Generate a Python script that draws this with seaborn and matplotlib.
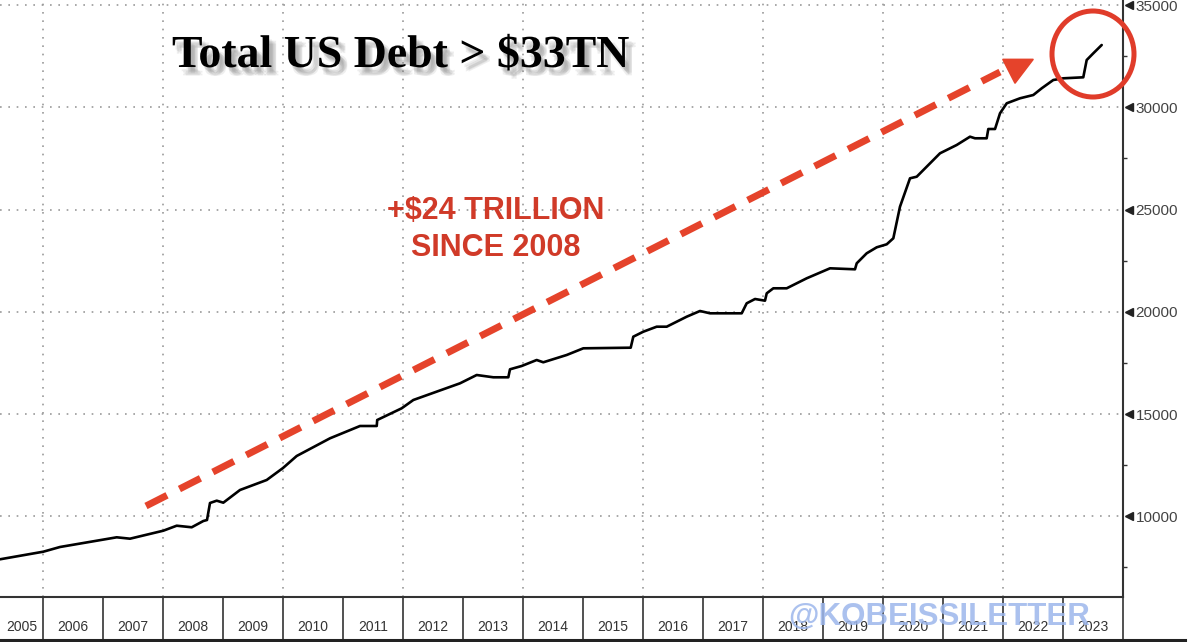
import matplotlib
matplotlib.use("Agg")
import matplotlib.pyplot as plt
import matplotlib.patheffects as pe
from matplotlib.patches import Ellipse, Polygon
import pandas as pd
import seaborn as sns

# ---------------- data ----------------
years = [2005.283, 2006.005, 2006.283, 2007.228, 2007.45, 2008.005, 2008.228, 2008.478,
         2008.672, 2008.733, 2008.783, 2008.895, 2009.005, 2009.283, 2009.728, 2010.0,
         2010.228, 2010.783, 2011.283, 2011.562, 2011.57, 2011.978, 2012.172, 2012.95,
         2013.228, 2013.505, 2013.755, 2013.783, 2013.978, 2014.228, 2014.338, 2014.728,
         2015.005, 2015.795, 2015.838, 2016.005, 2016.228, 2016.395, 2016.728, 2016.95,
         2017.117, 2017.645, 2017.728, 2017.867, 2018.033, 2018.062, 2018.172, 2018.395,
         2018.728, 2019.117, 2019.533, 2019.562, 2019.728, 2019.895, 2020.062, 2020.172,
         2020.283, 2020.45, 2020.562, 2020.728, 2020.95, 2021.228, 2021.45, 2021.533,
         2021.728, 2021.755, 2021.867, 2021.95, 2022.062, 2022.283, 2022.505, 2022.645,
         2022.838, 2023.005, 2023.338, 2023.395, 2023.505, 2023.645]
debt = [7894, 8266, 8496, 8970, 8902, 9293, 9537, 9460,
        9767, 9816, 10648, 10761, 10663, 11284, 11773, 12360,
        12947, 13812, 14414, 14414, 14707, 15280, 15686, 16502,
        16908, 16796, 16796, 17187, 17349, 17642, 17530, 17887,
        18214, 18244, 18782, 19026, 19271, 19271, 19760, 20039,
        19926, 19926, 20415, 20626, 20543, 20904, 21149, 21149,
        21638, 22127, 22078, 22372, 22861, 23154, 23301, 23595,
        25140, 26529, 26607, 27097, 27752, 28158, 28564, 28486,
        28486, 28940, 28940, 29708, 30198, 30442, 30603, 30931,
        31337, 31420, 31469, 32315, 32643, 33049]
ytick_values = [10000, 15000, 20000, 25000, 30000, 35000]
year_labels = list(range(2005, 2024))
title_text = "Total US Debt > $33TN"
callout_lines = ["+$24 TRILLION", "SINCE 2008"]
watermark_text = "@KOBEISSILETTER"

# ---------------- style ----------------
sns.set_style("white")
plt.rcParams['font.family'] = ['Liberation Sans', 'DejaVu Sans']
narrow = ['Liberation Sans Narrow', 'Liberation Sans', 'DejaVu Sans']

W, H = 1199, 642
fig = plt.figure(figsize=(W / 100, H / 100), dpi=100)
fig.patch.set_facecolor('white')

x0 = 2005.283
ax = fig.add_axes([0, 45 / H, 1123 / W, 597 / H])
df = pd.DataFrame({'year': years, 'debt': debt})
sns.lineplot(data=df, x='year', y='debt', ax=ax, color='black', lw=1.9,
             estimator=None, sort=False, legend=False)
ax.set_xlim(x0, 2024.0)
ax.set_ylim(6050, 35250)
ax.set_xlabel('')
ax.set_ylabel('')

# grid
ax.set_xticks(list(range(2006, 2025, 2)))
ax.tick_params(axis='x', length=0, labelbottom=False)
ax.yaxis.tick_right()
ax.set_yticks(ytick_values)
ax.set_yticklabels([str(v) for v in ytick_values], color='#444', fontsize=11,
                   family=narrow)
ax.tick_params(axis='y', which='major', length=0, pad=9)
ax.set_yticks([7500, 12500, 17500, 22500, 27500, 32500], minor=True)
ax.tick_params(axis='y', which='minor', length=3, width=1, color='#333', direction='out')
ax.grid(True, which='major', color='#9a9a9a', ls=(0, (1, 4)), lw=1.2)
for s in ['left', 'top']:
    ax.spines[s].set_visible(False)
for s in ['right', 'bottom']:
    ax.spines[s].set_color('#333')
    ax.spines[s].set_linewidth(1.5)
# triangle tick markers
ax.plot([1.005] * len(ytick_values), ytick_values, marker='<', ls='none', ms=6,
        color='#222', transform=ax.get_yaxis_transform(), clip_on=False)

# bottom year band
axb = fig.add_axes([0, 2 / H, 1185 / W, 43 / H])
axb.set_xlim(x0, x0 + 1185 / 60)
axb.set_ylim(0, 1)
axb.set_xticks([])
axb.set_yticks([])
axb.patch.set_alpha(0)
for s in ['left', 'top', 'right']:
    axb.spines[s].set_visible(False)
axb.spines['bottom'].set_color('#222')
axb.spines['bottom'].set_linewidth(2.2)
for yr in range(2006, 2025):
    axb.axvline(yr, color='#333', lw=1.2)
for yr in year_labels:
    xc = yr + 0.5 if yr > 2005 else (x0 + 2006) / 2
    axb.text(xc, 0.3, str(yr), ha='center', va='center', fontsize=10,
             color='#333', family=narrow)

# ---------------- annotations ----------------
red = '#e5432b'
ax.plot([2007.716, 2021.95], [10501, 31728], color=red, lw=5,
        ls=(0, (3.4, 2.0)), dash_capstyle='butt', solid_capstyle='butt')
ax.add_patch(Polygon([[2021.995, 32350], [2022.505, 32350], [2022.2, 31176]],
                     closed=True, color=red, clip_on=False))

fig.patches.append(Ellipse((1093 / W, 1 - 54 / H), 82 / W, 86 / H,
                           transform=fig.transFigure, fill=False,
                           ec='#e03c2a', lw=3.6))

shadow = [pe.SimplePatchShadow(offset=(ox, oy), shadow_rgbFace='#777', alpha=0.12)
          for ox, oy in ((2, -3), (3, -4), (4, -5), (5, -6), (3, -6), (5, -4))]
fig.text(172 / W, 1 - 67 / H, title_text, fontsize=33, fontweight='bold',
         family=['Liberation Serif', 'DejaVu Serif'], color='black',
         ha='left', va='baseline', path_effects=shadow + [pe.Normal()])

fig.text(496 / W, 1 - 211 / H, callout_lines[0], fontsize=22, fontweight='bold',
         color='#d03a28', ha='center', va='center')
fig.text(496 / W, 1 - 248 / H, callout_lines[1], fontsize=22, fontweight='bold',
         color='#d03a28', ha='center', va='center')

fig.text(939 / W, 1 - 617 / H, watermark_text, fontsize=22.5, fontweight='bold',
         color='#9db7ec', alpha=0.85, ha='center', va='center', zorder=5)

fig.savefig('out.png', dpi=100)
